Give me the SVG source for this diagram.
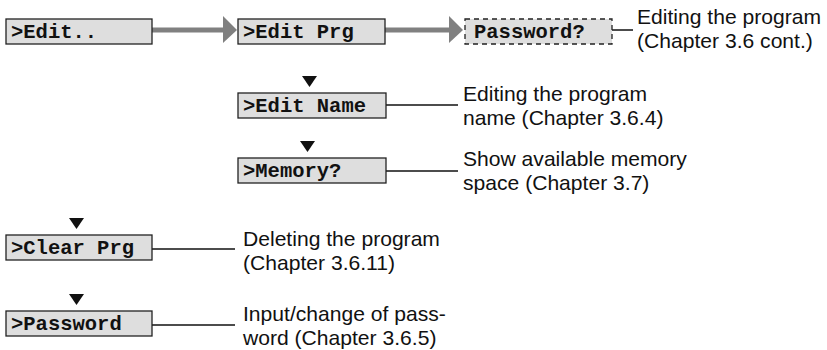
<svg xmlns="http://www.w3.org/2000/svg" width="827" height="350" viewBox="0 0 827 350">
<style>
.box{fill:#dedede;stroke:#222;stroke-width:1.3}
.dash{fill:#dedede;stroke:#222;stroke-width:1.3;stroke-dasharray:5 4}
.mono{font-family:"Liberation Mono","Courier New",monospace;font-weight:bold;font-size:20.5px;fill:#111}
.lbl{font-family:"Liberation Sans",Arial,sans-serif;font-size:20px;fill:#111}
.lead{stroke:#111;stroke-width:1.6;fill:none}
.garr{stroke:#808080;stroke-width:5;fill:none}
.ghead{fill:#808080}
.tri{fill:#111}
</style>
<rect width="827" height="350" fill="#fff"/>
<g id="connectors">
  <line class="garr" x1="152" y1="30" x2="224" y2="30"/>
  <polygon class="ghead" points="223,16 237,30 223,43"/>
  <line class="garr" x1="385" y1="30" x2="450" y2="30"/>
  <polygon class="ghead" points="449,16 463,30 449,43"/>
  <polygon class="tri" points="302,76 317,76 309.5,87"/>
  <polygon class="tri" points="300,141 315,141 307.5,152"/>
  <polygon class="tri" points="69,218 84,218 76.5,229"/>
  <polygon class="tri" points="69,294 84,294 76.5,305"/>
  <line class="lead" x1="595" y1="30" x2="633" y2="30"/>
  <line class="lead" x1="380" y1="105" x2="458" y2="105"/>
  <line class="lead" x1="380" y1="171" x2="458" y2="171"/>
  <line class="lead" x1="140" y1="249" x2="235" y2="249"/>
  <line class="lead" x1="140" y1="325" x2="235" y2="325"/>
</g>
<g id="n1"><rect class="box" x="6" y="19" width="146" height="25"/><text class="mono" x="11" y="38">&gt;Edit..</text></g>
<g id="n2"><rect class="box" x="238" y="19" width="147" height="25"/><text class="mono" x="243" y="38">&gt;Edit Prg</text></g>
<g id="n3"><rect class="dash" x="465" y="19" width="147" height="25"/><text class="mono" x="474" y="38">Password?</text></g>
<g id="n4"><rect class="box" x="238" y="93" width="148" height="25"/><text class="mono" x="243" y="112">&gt;Edit Name</text></g>
<g id="n5"><rect class="box" x="238" y="158" width="148" height="25"/><text class="mono" x="243" y="177">&gt;Memory?</text></g>
<g id="n6"><rect class="box" x="6" y="235" width="146" height="25"/><text class="mono" x="11" y="254">&gt;Clear Prg</text></g>
<g id="n7"><rect class="box" x="6" y="311" width="146" height="25"/><text class="mono" x="11" y="330">&gt;Password</text></g>
<g id="labels">
  <g transform="translate(637,0) scale(1.055,1)">
    <text class="lbl" x="0" y="24">Editing the program</text>
    <text class="lbl" x="0" y="48">(Chapter 3.6 cont.)</text>
  </g>
  <g transform="translate(463,0) scale(1.055,1)">
    <text class="lbl" x="0" y="101">Editing the program</text>
    <text class="lbl" x="0" y="125">name (Chapter 3.6.4)</text>
    <text class="lbl" x="0" y="166">Show available memory</text>
    <text class="lbl" x="0" y="190">space (Chapter 3.7)</text>
  </g>
  <g transform="translate(243,0) scale(1.055,1)">
    <text class="lbl" x="0" y="246">Deleting the program</text>
    <text class="lbl" x="0" y="270">(Chapter 3.6.11)</text>
    <text class="lbl" x="0" y="321">Input/change of pass-</text>
    <text class="lbl" x="0" y="345">word (Chapter 3.6.5)</text>
  </g>
</g>
</svg>
